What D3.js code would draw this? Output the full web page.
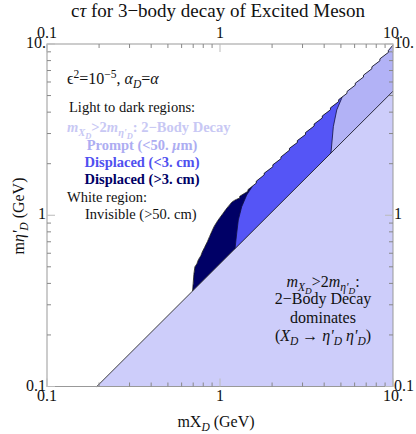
<!DOCTYPE html>
<html>
<head>
<meta charset="utf-8">
<title>ctau 3-body decay</title>
<script src="https://d3js.org/d3.v7.min.js"></script>
<style>
  body { margin: 0; background: #fff; }
</style>
</head>
<body>
<script>
// axis ticks
const majorTicks = [0.1, 1, 10];
const majorLabels = ["0.1", "1", "10."];
const minorTicks = [0.2, 0.3, 0.4, 0.5, 0.6, 0.7, 0.8, 0.9, 2, 3, 4, 5, 6, 7, 8, 9];

// mX_D = 2 m_eta'_D threshold line (mX, m_eta)
const diagonal = [[0.194, 0.1], [10, 5.3]];

// upper edge of the coloured region (jagged contour)
const upperEdge = [
  [0.694, 0.361], [0.700, 0.40], [0.706, 0.45], [0.716, 0.50], [0.735, 0.52],
  [0.750, 0.55], [0.775, 0.58], [0.790, 0.61], [0.815, 0.65], [0.845, 0.70],
  [0.870, 0.75], [0.895, 0.80], [0.925, 0.86], [0.957, 0.91], [0.985, 0.95],
  [1.015, 0.99], [1.045, 1.03], [1.080, 1.08], [1.120, 1.13], [1.169, 1.19],
  [1.21, 1.22], [1.25, 1.24], [1.30, 1.26], [1.30, 1.29],
  [1.45, 1.38], [1.45, 1.41], [1.62, 1.54], [1.62, 1.58],
  [1.80, 1.72], [1.80, 1.76], [2.02, 1.92], [2.02, 1.97],
  [2.25, 2.14], [2.25, 2.19], [2.52, 2.40], [2.52, 2.46],
  [2.80, 2.66], [2.80, 2.73], [3.12, 2.96], [3.12, 3.04],
  [3.50, 3.32], [3.50, 3.41], [3.90, 3.70], [3.90, 3.80],
  [4.35, 4.13], [4.35, 4.24], [4.85, 4.61], [4.85, 4.73],
  [5.42, 5.15], [5.42, 5.28], [6.05, 5.75], [6.05, 5.90],
  [6.75, 6.41], [6.75, 6.58], [7.55, 7.17], [7.55, 7.36],
  [8.40, 7.98], [8.40, 8.19], [9.40, 8.93], [9.40, 9.16], [10, 9.85]
];

// displaced (>3 cm) | displaced (<3 cm) boundary
const navyEdge = [[1.21, 0.55], [1.221, 0.637], [1.249, 0.785], [1.276, 0.938],
  [1.335, 1.122], [1.427, 1.313], [1.525, 1.455], [1.58, 1.62]];
// displaced (<3 cm) | prompt boundary
const promptEdge = [[4.37, 2.0], [4.38, 2.31], [4.52, 3.29], [4.73, 4.12],
  [5.05, 4.82], [5.2, 5.4]];

const colTwoBody = "#cdcdfa";
const colPrompt = "#b2b2f6";
const colDisp = "#5555f6";
const colNavy = "#000066";

const W = 416, H = 434;
const svg = d3.select("body").append("svg").attr("width", W).attr("height", H);

const x = d3.scaleLog().domain([0.1, 10]).range([47, 393]);
const y = d3.scaleLog().domain([0.1, 10]).range([386.5, 44]);
const line = d3.line().x(d => x(d[0])).y(d => y(d[1]));

// 2-body region below the threshold line
svg.append("path")
  .attr("d", line([diagonal[0], diagonal[1], [10, 0.1]]) + "Z")
  .attr("fill", colTwoBody);

// region between threshold and upper edge
const region = upperEdge.concat([[10, diagonal[1][1]]]);
svg.append("clipPath").attr("id", "reg")
  .append("path").attr("d", line(region) + "Z");

const g = svg.append("g").attr("clip-path", "url(#reg)");
g.append("path").attr("d", line(region) + "Z").attr("fill", colNavy);
g.append("path")
  .attr("d", line(navyEdge.concat([[30, 30], [30, 0.05], [1.2, 0.05]])) + "Z")
  .attr("fill", colDisp);
g.append("path")
  .attr("d", line(promptEdge.concat([[30, 30], [30, 0.05], [4.3, 0.05]])) + "Z")
  .attr("fill", colPrompt);
[navyEdge, promptEdge].forEach(c => {
  g.append("path").attr("d", line(c)).attr("fill", "none")
    .attr("stroke", "#101040").attr("stroke-width", 0.8);
});

svg.append("path").attr("d", line(upperEdge)).attr("fill", "none")
  .attr("stroke", "#111").attr("stroke-width", 0.8);
svg.append("path").attr("d", line(diagonal)).attr("fill", "none")
  .attr("stroke", "#111").attr("stroke-width", 0.8);

// frame and ticks
const [x0, x1] = x.range(), [y0, y1] = y.range();
svg.append("rect").attr("x", x0).attr("y", y1).attr("width", x1 - x0).attr("height", y0 - y1)
  .attr("fill", "none").attr("stroke", "#999").attr("stroke-width", 1);

const ticks = svg.append("g");
function tickSet(vals, len, col) {
  vals.forEach(v => {
    const px = x(v), py = y(v);
    ticks.append("line").attr("x1", px).attr("x2", px).attr("y1", y0).attr("y2", y0 - len).attr("stroke", col);
    ticks.append("line").attr("x1", px).attr("x2", px).attr("y1", y1).attr("y2", y1 + len).attr("stroke", col);
    ticks.append("line").attr("y1", py).attr("y2", py).attr("x1", x0).attr("x2", x0 + len).attr("stroke", col);
    ticks.append("line").attr("y1", py).attr("y2", py).attr("x1", x1).attr("x2", x1 - len).attr("stroke", col);
  });
}
tickSet(minorTicks, 4, "#888");
tickSet(majorTicks, 8, "#bbb");

const labels = svg.append("g").attr("font-size", 16).attr("fill", "#111");
majorTicks.forEach((v, i) => {
  labels.append("text").attr("x", x(v)).attr("y", y0 + 14).attr("text-anchor", "middle").text(majorLabels[i]);
  labels.append("text").attr("x", x(v)).attr("y", y1 - 6).attr("text-anchor", "middle").text(majorLabels[i]);
  labels.append("text").attr("x", x0 - 1).attr("y", y(v) + 4).attr("text-anchor", "end").text(majorLabels[i]);
  labels.append("text").attr("x", x1 + 1).attr("y", y(v) + 4).attr("text-anchor", "start").text(majorLabels[i]);
});

// rich text with sub/superscripts: parts = [str, level, italic]
function rich(sel, px, py, parts, fs, anchor, fill, weight) {
  const shift = { "0": 0, "1": 0.28, "2": 0.45, "-1": -0.38 };
  const size = { "0": 1, "1": 0.72, "2": 0.58, "-1": 0.72 };
  const t = sel.append("text").attr("x", px).attr("y", py).attr("font-size", fs)
    .attr("text-anchor", anchor || "start").attr("fill", fill || "#111")
    .attr("font-weight", weight || "normal");
  let prev = 0;
  parts.forEach(p => {
    const lv = p[1] || 0;
    t.append("tspan").attr("dy", (shift[lv] - shift[prev]) * fs)
      .attr("font-size", size[lv] * fs)
      .attr("font-style", p[2] ? "italic" : "normal").text(p[0]);
    prev = lv;
  });
  return t;
}

svg.append("text").attr("x", 218).attr("y", 17).attr("text-anchor", "middle")
  .attr("font-size", 19).attr("fill", "#111")
  .html('c<tspan font-style="italic">τ</tspan> for 3−body decay of Excited Meson');

rich(svg, 216, 427, [["mX"], ["D", 1, true], [" (GeV)"]], 16, "middle");
const yl = rich(svg, 0, 0, [["m"], ["η'", 0, true], ["D", 1, true], [" (GeV)"]], 16, "middle");
yl.attr("transform", "translate(24,216) rotate(-90)");

rich(svg, 67, 84, [["ϵ"], ["2", -1], ["=10"], ["−5", -1], [", "], ["α", 0, true], ["D", 1, true], ["=", 0], ["α", 0, true]], 16);

const fsL = 14.5;
svg.append("text").attr("x", 69).attr("y", 112).attr("font-size", fsL).attr("fill", "#111").text("Light to dark regions:");
rich(svg, 67, 132, [["m", 0, true], ["X", 1, true], ["D", 2, true], [">2", 0], ["m", 0, true], ["η'", 1, true], ["D", 2, true], [": 2−Body Decay", 0]],
  fsL, "start", "#c8c8f4", "bold");
svg.append("text").attr("x", 142).attr("y", 150).attr("text-anchor", "middle").attr("font-size", fsL)
  .attr("font-weight", "bold").attr("fill", "#adadf2").html('Prompt (&lt;50. <tspan font-style="italic">μ</tspan>m)');
svg.append("text").attr("x", 142).attr("y", 167).attr("text-anchor", "middle").attr("font-size", fsL)
  .attr("font-weight", "bold").attr("fill", "#5050f0").text("Displaced (<3. cm)");
svg.append("text").attr("x", 142).attr("y", 184).attr("text-anchor", "middle").attr("font-size", fsL)
  .attr("font-weight", "bold").attr("fill", colNavy).text("Displaced (>3. cm)");
svg.append("text").attr("x", 67).attr("y", 202).attr("font-size", fsL).attr("fill", "#111").text("White region:");
svg.append("text").attr("x", 85).attr("y", 219).attr("font-size", fsL).attr("fill", "#111").text("Invisible (>50. cm)");

rich(svg, 323, 287, [["m", 0, true], ["X", 1, true], ["D", 2, true], [">2", 0], ["m", 0, true], ["η'", 1, true], ["D", 2, true], [":", 0]], 16, "middle");
svg.append("text").attr("x", 323).attr("y", 304).attr("text-anchor", "middle").attr("font-size", 16).attr("fill", "#111").text("2−Body Decay");
svg.append("text").attr("x", 323).attr("y", 323).attr("text-anchor", "middle").attr("font-size", 16).attr("fill", "#111").text("dominates");
rich(svg, 323, 341, [["("], ["X", 0, true], ["D", 1, true], [" → ", 0], ["η'", 0, true], ["D", 1, true], [" ", 0], ["η'", 0, true], ["D", 1, true], [")", 0]], 16, "middle");

svg.selectAll("text").style("font-family", "'Liberation Serif', serif");
</script>
</body>
</html>
